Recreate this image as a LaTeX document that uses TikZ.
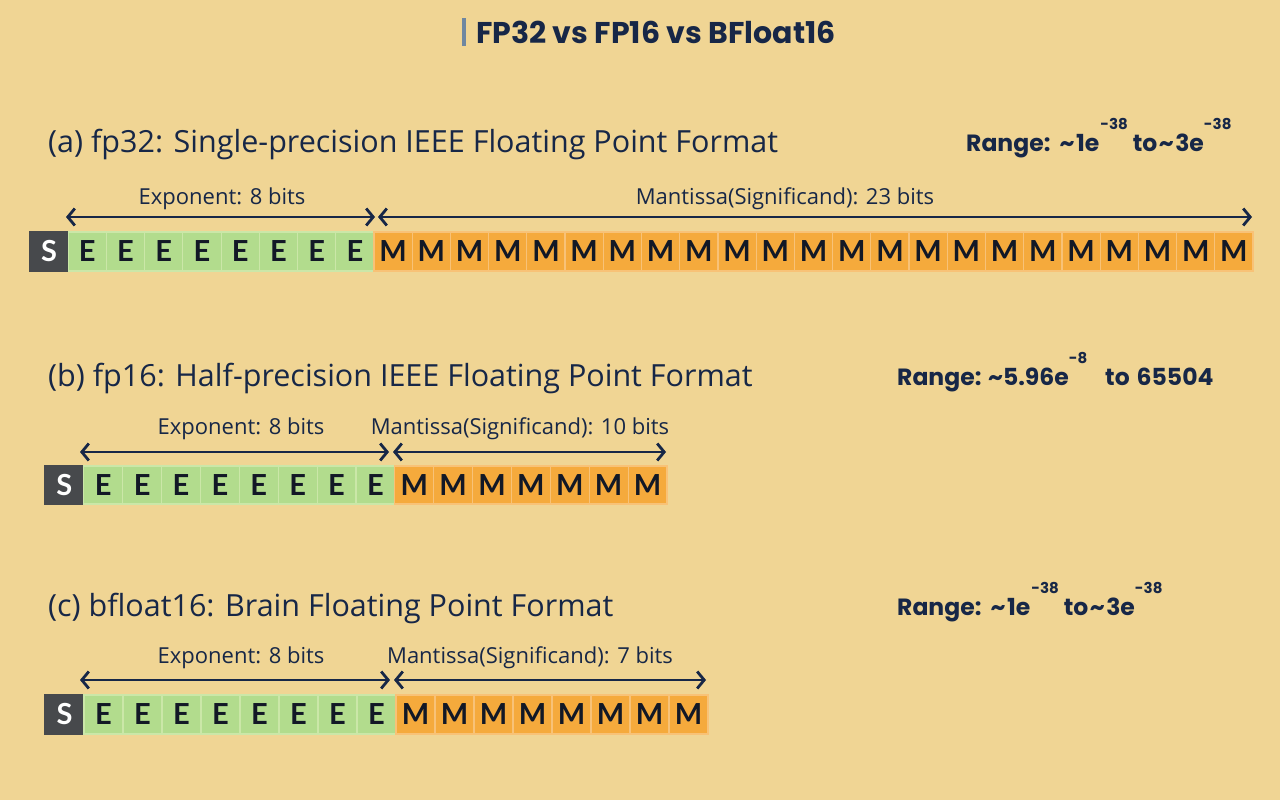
\documentclass[tikz,border=0pt]{standalone}
\usepackage{fontspec}
\setmainfont{Open Sans}
\newfontfamily\popp{Poppins}
\newfontfamily\lato{Lato}
\usetikzlibrary{arrows.meta}
\definecolor{bg}{HTML}{F0D594}
\definecolor{navy}{HTML}{172747}
\definecolor{ink}{HTML}{121826}
\definecolor{sgray}{HTML}{47494C}
\definecolor{egreen}{HTML}{B2DC8D}
\definecolor{eedge}{HTML}{CBE7A8}
\definecolor{morange}{HTML}{F5AA3C}
\definecolor{medge}{HTML}{F8C277}
\definecolor{barc}{HTML}{6F87A0}
\tikzset{
  bitbox/.style={rectangle, inner sep=0pt, outer sep=0pt, anchor=north west, line width=1.2pt,
    font=\lato\fontsize{29}{30}\selectfont\bfseries},
  sbit/.style={bitbox, fill=sgray, draw=sgray, text=white},
  ebit/.style={bitbox, fill=egreen, draw=eedge, text=ink},
  mbit/.style={bitbox, fill=morange, draw=medge, text=ink},
  dim/.style={{Straight Barb[length=7pt,width=17pt,line width=2.8pt]}-{Straight Barb[length=7pt,width=17pt,line width=2.8pt]}, line width=2.8pt, draw=navy},
  lbl/.style={text=navy, inner sep=0pt, font=\fontsize{22}{26}\selectfont},
  head/.style={text=navy, inner sep=0pt, anchor=base west, font=\fontsize{30.5}{34}\selectfont},
  rng/.style={text=navy, inner sep=0pt, anchor=base west, font=\popp\bfseries\fontsize{23.5}{26}\selectfont},
}
\newcommand\supx[1]{\raisebox{22.5pt}{\fontsize{15}{15}\selectfont #1}}
\newcommand\tld{\hspace{1.5pt}\textasciitilde\hspace{1.5pt}}
% prefix, x0, ytop, w, h, nE, nM
\newcommand\bitrow[7]{%
  \node[sbit, minimum width=#4pt, minimum height=#5pt] (#1s) at (#2,#3) {S};
  \foreach \i in {1,...,#6} {\node[ebit, minimum width=#4pt, minimum height=#5pt] (#1e\i) at ({#2+\i*#4},#3) {E};}
  \foreach \i in {1,...,#7} {\node[mbit, minimum width=#4pt, minimum height=#5pt] (#1m\i) at ({#2+(#6+\i)*#4},#3) {M};}
}
\begin{document}
\begin{tikzpicture}[x=1pt,y=-1pt]
\fill[bg] (0,0) rectangle (1280,800);
\useasboundingbox (0,0) rectangle (1280,800);

% title
\fill[barc] (462,18) rectangle (466,46);
\node[text=navy, inner sep=0pt, anchor=west, font=\popp\bfseries\fontsize{30}{32}\selectfont] (title) at (476,32) {FP32 vs FP16 vs BFloat16};

% (a) fp32
\node[head] (ha) at (48,152) {(a) fp32: Single-precision IEEE Floating Point Format};
\node[rng] (ra) at (966,151.5) {Range:\hspace{1pt} \tld1e\hspace{1pt}\supx{-38}\hspace{5pt}to\tld3e\supx{-38}};
\bitrow{a}{30}{232}{38.22}{39}{8}{23}
\coordinate (aexL) at (66,217);
\coordinate (aexR) at (375,217);
\coordinate (amaL) at (378,217);
\coordinate (amaR) at (1252,217);
\draw[dim] (aexL) -- (aexR);
\draw[dim] (amaL) -- (amaR);
\node[lbl] (ael) at (222,199) {Exponent: 8 bits};
\node[lbl] (aml) at (785,199) {Mantissa(Significand): 23 bits};

% (b) fp16
\node[head] (hb) at (48,386) {(b) fp16: Half-precision IEEE Floating Point Format};
\node[rng] (rb) at (897,385.5) {Range: \textasciitilde5.96e\supx{-8}\hspace{18pt}to\hspace{2pt} 65504};
\bitrow{b}{45}{466}{38.875}{38}{8}{7}
\coordinate (bexL) at (80,452);
\coordinate (bexR) at (389,452);
\coordinate (bmaL) at (393,452);
\coordinate (bmaR) at (666,452);
\draw[dim] (bexL) -- (bexR);
\draw[dim] (bmaL) -- (bmaR);
\node[lbl] (bel) at (241,429) {Exponent: 8 bits};
\node[lbl] (bml) at (520,429) {Mantissa(Significand): 10 bits};

% (c) bfloat16
\node[head] (hc) at (48,616) {(c) bfloat16: Brain Floating Point Format};
\node[rng] (rc) at (897,615.5) {Range:\hspace{1pt} \tld1e\hspace{1pt}\supx{-38}\hspace{5pt}to\tld3e\supx{-38}};
\bitrow{c}{45}{695}{39.0}{39}{8}{8}
\coordinate (cexL) at (80,680);
\coordinate (cexR) at (390,680);
\coordinate (cmaL) at (394,680);
\coordinate (cmaR) at (706,680);
\draw[dim] (cexL) -- (cexR);
\draw[dim] (cmaL) -- (cmaR);
\node[lbl] (cel) at (241,658) {Exponent: 8 bits};
\node[lbl] (cml) at (530,658) {Mantissa(Significand): 7 bits};
\end{tikzpicture}
\end{document}
